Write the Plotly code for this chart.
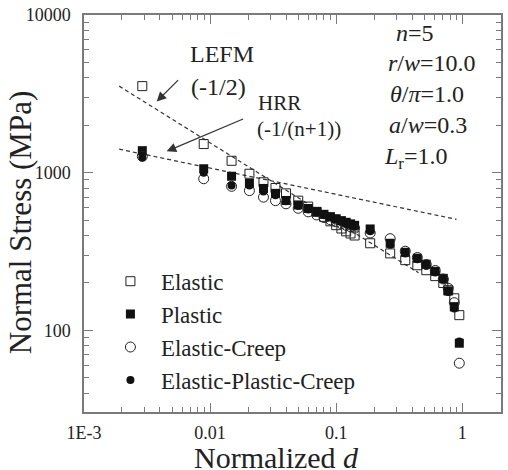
import plotly.graph_objects as go

# ---- data ----
x_nodes = [0.0029, 0.0089, 0.0148, 0.0205, 0.0265, 0.033, 0.04, 0.05, 0.06, 0.07,
           0.08, 0.09, 0.10, 0.11, 0.12, 0.13, 0.14, 0.186, 0.268, 0.353,
           0.44, 0.518, 0.61, 0.707, 0.774, 0.864, 0.947]
elastic = [3540, 1520, 1190, 985, 870, 800, 740, 665, 610, 565,
           525, 492, 465, 443, 425, 412, 400, 357, 308, 279,
           259, 241, 221, 200, 180, 160, 125]
plastic = [1380, 1060, 950, 855, 795, 740, 667, 625, 593, 567,
           545, 527, 511, 497, 485, 474, 464, 440, 357, 313,
           287, 263, 237, 214, 178, 141, 83]
elastic_creep = [1270, 916, 820, 770, 700, 665, 635, 595, 565, 540,
                 520, 503, 488, 475, 464, 454, 445, 415, 382, 318,
                 290, 262, 240, 212, 185, 150, 62]
ep_creep = [1250, 1000, 830, 830, 760, 720, 660, 615, 585, 560,
            538, 520, 505, 491, 479, 468, 458, 425, 350, 308,
            283, 258, 233, 210, 175, 138, 85]

lefm_x = [0.0019, 0.45]
lefm_y = [3540, 232]
hrr_x = [0.0019, 0.90]
hrr_y = [1411, 506]

x_tickvals = [0.001, 0.01, 0.1, 1]
x_ticktext = ["1E-3", "0.01", "0.1", "1"]
y_tickvals = [100, 1000, 10000]
y_ticktext = ["100", "1000", "10000"]

FONT = "Liberation Serif, Times New Roman, serif"
TXT = "#222222"
AX = "#7a7a7a"

# plot area in pixels
L, R, T, B = 84, 503, 13, 412
W, H = 508, 470


def px(xp):
    return (xp - L) / (R - L)


def py(yp):
    return (B - yp) / (B - T)


fig = go.Figure()

fig.add_trace(go.Scatter(x=lefm_x, y=lefm_y, mode="lines", showlegend=False,
                         line=dict(color="#333333", width=1.2, dash="4px,3px"), hoverinfo="skip"))
fig.add_trace(go.Scatter(x=hrr_x, y=hrr_y, mode="lines", showlegend=False,
                         line=dict(color="#333333", width=1.2, dash="4px,3px"), hoverinfo="skip"))

fig.add_trace(go.Scatter(x=x_nodes, y=elastic, mode="markers", name="Elastic",
                         marker=dict(symbol="square-open", size=9, color="#222222",
                                     line=dict(width=1, color="#222222"))))
fig.add_trace(go.Scatter(x=x_nodes, y=plastic, mode="markers", name="Plastic",
                         marker=dict(symbol="square", size=9, color="#111111")))
fig.add_trace(go.Scatter(x=x_nodes, y=elastic_creep, mode="markers", name="Elastic-Creep",
                         marker=dict(symbol="circle-open", size=10, color="#222222",
                                     line=dict(width=1, color="#222222"))))
fig.add_trace(go.Scatter(x=x_nodes, y=ep_creep, mode="markers", name="Elastic-Plastic-Creep",
                         marker=dict(symbol="circle", size=8, color="#111111")))

axis_common = dict(
    type="log", showgrid=False, zeroline=False, showline=True, linecolor=AX, linewidth=1.5,
    mirror="allticks", ticks="inside", ticklen=9, tickwidth=1, tickcolor=AX,
    tickfont=dict(family=FONT, size=18, color=TXT),
    minor=dict(ticks="inside", ticklen=5, tickwidth=1, tickcolor=AX, dtick="D1", showgrid=False),
)

fig.update_xaxes(range=[-3, 0.307], tickvals=x_tickvals, ticktext=x_ticktext,
                 ticklabelstandoff=4, **axis_common)
fig.update_yaxes(range=[1.483, 4], tickvals=y_tickvals, ticktext=y_ticktext,
                 ticklabelstandoff=8, **axis_common)

ann = []
# axis titles
ann.append(dict(text="Normal Stress (MPa)", x=px(21), y=py(222), xref="paper", yref="paper",
                textangle=-90, showarrow=False, font=dict(family=FONT, size=31, color=TXT),
                xanchor="center", yanchor="middle"))
ann.append(dict(text="Normalized <i>d</i>", x=px(277), y=0, xref="paper", yref="paper",
                yshift=-(439 - B), showarrow=False, font=dict(family=FONT, size=30, color=TXT),
                xanchor="center", yanchor="top"))
# LEFM / HRR labels
ann.append(dict(text="LEFM", x=px(223), y=py(52), xref="paper", yref="paper", showarrow=False,
                font=dict(family=FONT, size=24, color=TXT), xanchor="center", yanchor="middle"))
ann.append(dict(text="(-1/2)", x=px(219), y=py(85), xref="paper", yref="paper", showarrow=False,
                font=dict(family=FONT, size=24, color=TXT), xanchor="center", yanchor="middle"))
ann.append(dict(text="HRR", x=px(257), y=py(101), xref="paper", yref="paper", showarrow=False,
                font=dict(family=FONT, size=21, color=TXT), xanchor="left", yanchor="middle"))
ann.append(dict(text="(-1/(n+1))", x=px(256), y=py(128), xref="paper", yref="paper", showarrow=False,
                font=dict(family=FONT, size=21, color=TXT), xanchor="left", yanchor="middle"))
# arrows
ann.append(dict(text="", x=px(157), y=py(100), xref="paper", yref="paper", showarrow=True,
                ax=180 - 157, ay=77 - 100, arrowhead=2, arrowsize=1.6, arrowwidth=1.2,
                arrowcolor="#333333"))
ann.append(dict(text="", x=px(167), y=py(150), xref="paper", yref="paper", showarrow=True,
                ax=245 - 167, ay=117 - 150, arrowhead=2, arrowsize=1.6, arrowwidth=1.2,
                arrowcolor="#333333"))
# parameter texts
params = [("<i>n</i>=5", 395, 31), ("<i>r</i>/<i>w</i>=10.0", 387, 61),
          ("<i>θ</i>/<i>π</i>=1.0", 389, 92), ("<i>a</i>/<i>w</i>=0.3", 388, 124),
          ("<i>L</i><sub>r</sub>=1.0", 383, 157)]
for t, xx, yy in params:
    ann.append(dict(text=t, x=px(xx), y=py(yy), xref="paper", yref="paper", showarrow=False,
                    font=dict(family=FONT, size=24, color=TXT), xanchor="left", yanchor="middle"))

fig.update_layout(
    width=W, height=H,
    margin=dict(l=L, r=W - R, t=T, b=H - B),
    paper_bgcolor="white", plot_bgcolor="white",
    annotations=ann,
    showlegend=True,
    legend=dict(x=px(100), y=py(259), xanchor="left", yanchor="top", bgcolor="rgba(0,0,0,0)",
                font=dict(family=FONT, size=23, color=TXT), tracegroupgap=0,
                itemsizing="trace", itemwidth=51),
)

fig.write_html("out.html")
